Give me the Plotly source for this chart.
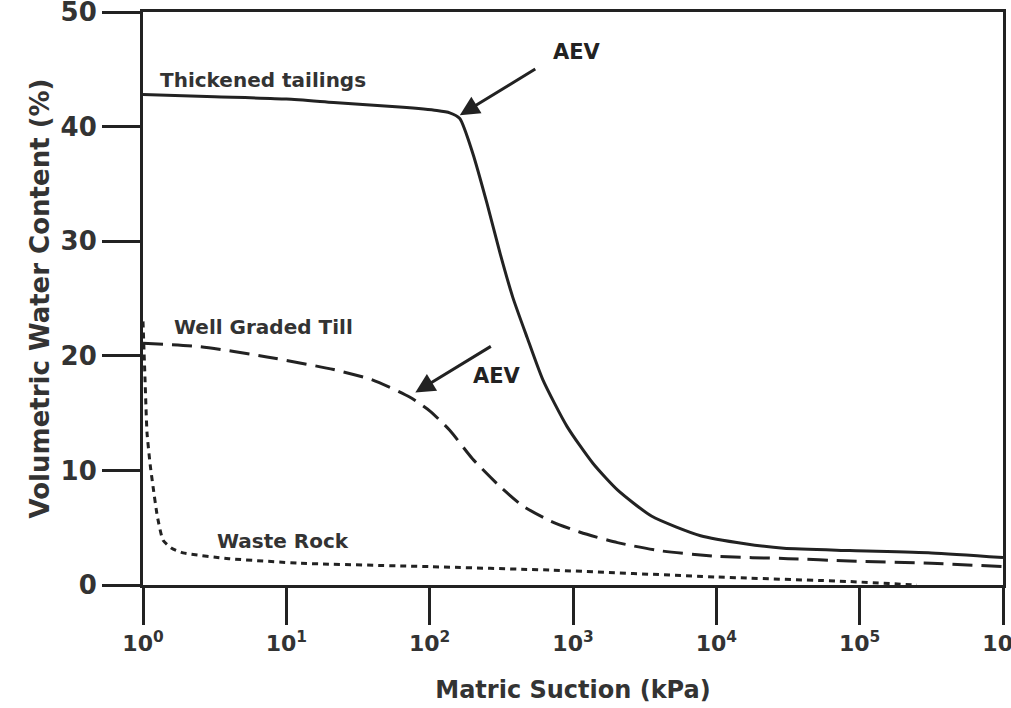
import plotly.graph_objects as go

# Data (log10 of matric suction in kPa, volumetric water content %)
tail_logx = [0.0, 0.5, 1.0, 1.33, 1.79, 2.05, 2.14, 2.21, 2.30, 2.40, 2.49, 2.58, 2.68, 2.79, 2.96, 3.14, 3.31, 3.55, 3.89, 4.20, 4.47, 4.93, 5.50, 6.0]
tail_y =    [42.8, 42.6, 42.4, 42.1, 41.7, 41.4, 41.2, 40.7, 37.7, 33.3, 29.0, 25.1, 21.6, 17.9, 13.8, 10.6, 8.3, 6.0, 4.3, 3.6, 3.2, 3.0, 2.8, 2.4]

till_logx = [0.0, 0.4, 0.865, 1.33, 1.60, 1.86, 2.00, 2.14, 2.30, 2.49, 2.65, 2.84, 3.05, 3.31, 3.60, 4.0, 4.5, 4.93, 5.5, 6.0]
till_y =    [21.1, 20.8, 19.9, 18.8, 17.9, 16.4, 15.2, 13.5, 11.0, 8.6, 6.9, 5.6, 4.6, 3.7, 3.0, 2.5, 2.3, 2.1, 1.9, 1.6]

rock_logx = [0.0, 0.014, 0.028, 0.05, 0.07, 0.10, 0.14, 0.20, 0.28, 0.6, 1.1, 2.0, 2.84, 4.0, 4.93, 5.4]
rock_y =    [23.0, 18.0, 13.3, 10.5, 8.6, 6.0, 3.9, 3.2, 2.8, 2.3, 1.9, 1.6, 1.3, 0.7, 0.3, 0.0]

x_tickvals = [1, 10, 100, 1000, 10000, 100000, 1000000]
x_ticktext = ["10<sup>0</sup>", "10<sup>1</sup>", "10<sup>2</sup>", "10<sup>3</sup>",
              "10<sup>4</sup>", "10<sup>5</sup>", "10<sup>6</sup>"]
y_tickvals = [0, 10, 20, 30, 40, 50]

def tolin(lx):
    return [10 ** v for v in lx]

ink = "#222222"
txt = "#333333"
fig = go.Figure()
fig.add_trace(go.Scatter(x=tolin(tail_logx), y=tail_y, mode="lines",
                         line=dict(color=ink, width=3, shape="spline", smoothing=0.6),
                         name="Thickened tailings", showlegend=False))
fig.add_trace(go.Scatter(x=tolin(till_logx), y=till_y, mode="lines",
                         line=dict(color=ink, width=3, dash="20px,9px", shape="spline", smoothing=0.6),
                         name="Well Graded Till", showlegend=False))
fig.add_trace(go.Scatter(x=tolin(rock_logx), y=rock_y, mode="lines",
                         line=dict(color=ink, width=3, dash="6px,5px", shape="spline", smoothing=0.5),
                         name="Waste Rock", showlegend=False))

fnt = "DejaVu Sans"
lbl = dict(family=fnt, size=20, color=txt, weight="bold")
fig.add_annotation(x=0.105, y=44.1, xref="x", yref="y", text="Thickened tailings",
                   showarrow=False, xanchor="left", yanchor="middle", font=lbl)
fig.add_annotation(x=0.2, y=22.5, xref="x", yref="y", text="Well Graded Till",
                   showarrow=False, xanchor="left", yanchor="middle", font=lbl)
fig.add_annotation(x=0.5, y=3.8, xref="x", yref="y", text="Waste Rock",
                   showarrow=False, xanchor="left", yanchor="middle", font=lbl)

aev_font = dict(family=fnt, size=21, color=ink, weight="bold")
fig.add_annotation(x=2.21, y=41.0, xref="x", yref="y", text="",
                   showarrow=True, arrowhead=2, arrowsize=1.3, arrowwidth=3, arrowcolor=ink,
                   ax=77, ay=-47)
fig.add_annotation(x=1.90, y=16.8, xref="x", yref="y", text="",
                   showarrow=True, arrowhead=2, arrowsize=1.3, arrowwidth=3, arrowcolor=ink,
                   ax=77, ay=-47)
fig.add_annotation(x=(577 - 143) / 143.3, y=(585 - 52) / 11.46, xref="x", yref="y", text="AEV",
                   showarrow=False, font=aev_font)
fig.add_annotation(x=(497 - 143) / 143.3, y=(585 - 376) / 11.46, xref="x", yref="y", text="AEV",
                   showarrow=False, font=aev_font)

fig.update_layout(
    width=1011, height=708,
    margin=dict(l=143, r=8, t=12, b=123),
    paper_bgcolor="white", plot_bgcolor="white",
    font=dict(family=fnt, color=txt),
)
fig.update_xaxes(
    type="log", range=[0, 6], automargin=False,
    tickvals=x_tickvals, ticktext=x_ticktext, ticklabeloverflow="allow",
    ticks="outside", ticklen=37, tickwidth=3, tickcolor=ink,
    showline=True, linewidth=3, linecolor=ink, mirror=True,
    showgrid=False, zeroline=False,
    tickfont=dict(family=fnt, size=22, color=txt, weight="bold"),
    title=dict(text="Matric Suction (kPa)", font=dict(family=fnt, size=24, color=txt, weight="bold"), standoff=26),
)
fig.update_yaxes(
    range=[0, 50], tickvals=y_tickvals, automargin=False, ticklabeloverflow="allow",
    ticks="outside", ticklen=38, tickwidth=3, tickcolor=ink,
    showline=True, linewidth=3, linecolor=ink, mirror=True,
    showgrid=False, zeroline=False,
    ticksuffix="\u00a0",
    tickfont=dict(family=fnt, size=26, color=txt, weight="bold"),
    title=dict(text="Volumetric Water Content (%)", font=dict(family=fnt, size=26, color=txt, weight="bold"), standoff=4),
)
fig.write_html("out.html", config={"displayModeBar": False},
               post_script="document.body.style.margin='0';")
